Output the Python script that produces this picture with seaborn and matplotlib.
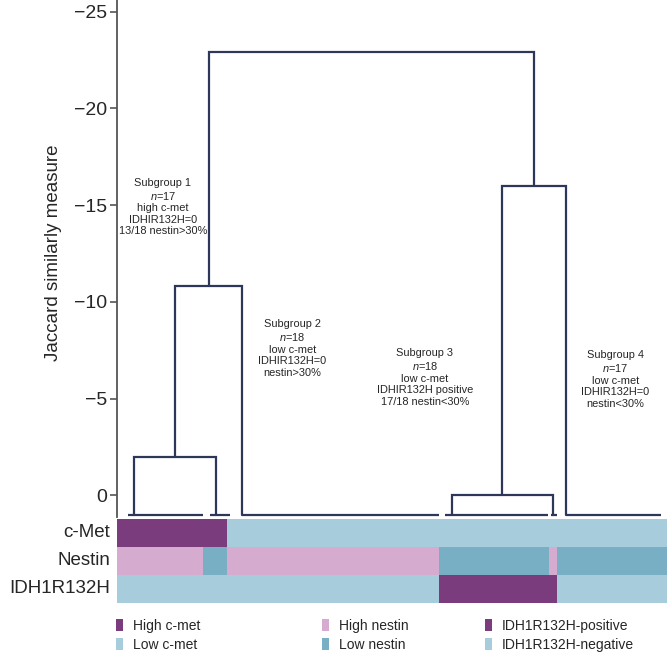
import numpy as np
import matplotlib
matplotlib.use("Agg")
import matplotlib.pyplot as plt
from matplotlib.colors import ListedColormap
from matplotlib.patches import Patch
import seaborn as sns

# dendrogram leaf groups, x in sample units (70 samples)
leaf_start = [1.4, 11.8, 15.9, 41.7, 55.2, 57.1]
leaf_end = [10.9, 14.4, 41.0, 54.8, 56.0, 69.3]
leaf_leg = [2.2, 12.6, 15.9, 42.6, 55.5, 57.1]
leaf_height = 1.0

# merges: left node, right node, height (nodes 0-5 are leaf groups)
merge_left = [0, 3, 6, 7, 8]
merge_right = [1, 4, 2, 5, 9]
merge_height = [-2.0, 0.0, -10.8, -16.0, -22.9]

# heatmap rows as runs of (status, n samples)
row_names = ["c-Met", "Nestin", "IDH1R132H"]
cmet_runs = [("High c-met", 14), ("Low c-met", 56)]
nestin_runs = [("High nestin", 11), ("Low nestin", 3), ("High nestin", 27),
               ("Low nestin", 14), ("High nestin", 1), ("Low nestin", 14)]
idh_runs = [("IDH1R132H-negative", 41), ("IDH1R132H-positive", 15),
            ("IDH1R132H-negative", 14)]

statuses = ["High c-met", "Low c-met", "High nestin", "Low nestin",
            "IDH1R132H-positive", "IDH1R132H-negative"]
status_colors = ["#7a3c7d", "#a7cddc", "#d5abcf", "#78afc5", "#7a3c7d", "#a7cddc"]

# subgroup notes
sub_text = [
    "Subgroup 1\n$n$=17\nhigh c-met\nIDHIR132H=0\n13/18 nestin>30%",
    "Subgroup 2\n$n$=18\nlow c-met\nIDHIR132H=0\nnestin>30%",
    "Subgroup 3\n$n$=18\nlow c-met\nIDHIR132H positive\n17/18 nestin<30%",
    "Subgroup 4\n$n$=17\nlow c-met\nIDHIR132H=0\nnestin<30%",
]
sub_x = [5.85, 22.3, 39.2, 63.4]
sub_y = [-14.9, -7.6, -6.1, -6.0]

sns.set_style("white")
plt.rcParams["font.family"] = ["Liberation Sans", "DejaVu Sans"]
plt.rcParams["mathtext.fontset"] = "custom"
plt.rcParams["mathtext.rm"] = "Liberation Sans"
plt.rcParams["mathtext.it"] = "Liberation Sans:italic"

line_col = "#2c375a"
fig = plt.figure(figsize=(6.67, 6.52), dpi=100)

# dendrogram
ax = fig.add_axes([0.1754, 0.2074, 0.8246, 0.7926])
node_x = list(leaf_leg)
node_h = [leaf_height] * len(leaf_leg)
ax.hlines([leaf_height] * len(leaf_start), leaf_start, leaf_end, color=line_col, lw=1.6)
for l, r, h in zip(merge_left, merge_right, merge_height):
    xl, xr = node_x[l], node_x[r]
    ax.plot([xl, xl, xr, xr], [node_h[l], h, h, node_h[r]], color=line_col, lw=1.6,
            solid_joinstyle="miter")
    node_x.append((xl + xr) / 2)
    node_h.append(h)

for t, x, y in zip(sub_text, sub_x, sub_y):
    ax.text(x, y, t, ha="center", va="center", fontsize=7.9, linespacing=1.2)

ax.set_xlim(0, 70)
ax.set_ylim(1.1, -25.6)
ax.set_yticks([-25, -20, -15, -10, -5, 0])
ax.set_xticks([])
for s in ["top", "right", "bottom"]:
    ax.spines[s].set_visible(False)
ax.spines["left"].set_color("#555555")
ax.spines["left"].set_linewidth(1.3)
ax.tick_params(axis="y", length=5, width=1.2, color="#555555", pad=2, labelsize=14, left=True)
ax.set_ylabel("Jaccard similarly measure", fontsize=13.5)
ax.yaxis.set_label_coords(-0.10, 0.51)

# annotation heatmap
codes = []
for runs in [cmet_runs, nestin_runs, idh_runs]:
    row = []
    for status, n in runs:
        row += [statuses.index(status)] * n
    codes.append(row)
codes = np.array(codes)

hax = fig.add_axes([0.1754, 0.0752, 0.8246, 0.1288])
sns.heatmap(codes, cmap=ListedColormap(status_colors), vmin=-0.5, vmax=5.5,
            cbar=False, ax=hax, xticklabels=False, yticklabels=row_names)
hax.tick_params(axis="y", length=0, pad=5, labelsize=13.5)
plt.setp(hax.get_yticklabels(), rotation=0)

# legends
legend_groups = [(0.174, [0, 1]), (0.483, [2, 3]), (0.727, [4, 5])]
for x0, idx in legend_groups:
    handles = [Patch(facecolor=status_colors[i], edgecolor="none", label=statuses[i]) for i in idx]
    fig.legend(handles=handles, loc="upper left", bbox_to_anchor=(x0, 0.051),
               frameon=False, fontsize=10, handlelength=0.5, handleheight=0.9,
               handletextpad=0.7, labelspacing=0.35, borderpad=0, borderaxespad=0)

fig.savefig("out.png", dpi=100)
